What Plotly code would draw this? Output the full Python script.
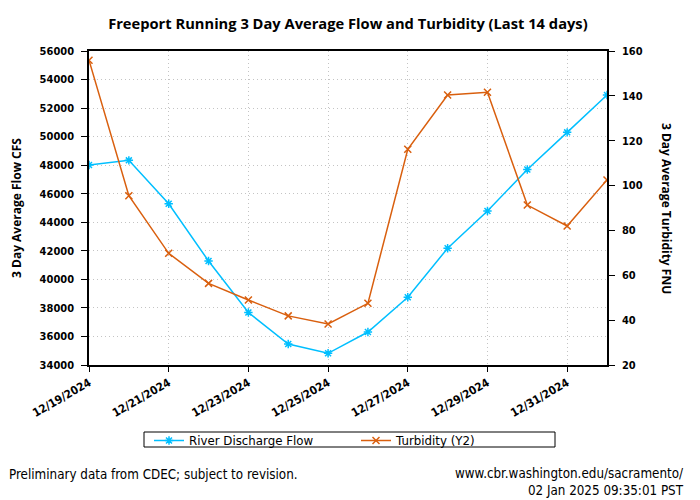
import plotly.graph_objects as go

dates = ["2024-12-19", "2024-12-20", "2024-12-21", "2024-12-22", "2024-12-23", "2024-12-24",
         "2024-12-25", "2024-12-26", "2024-12-27", "2024-12-28", "2024-12-29", "2024-12-30",
         "2024-12-31", "2025-01-01"]
flow = [48010, 48340, 45300, 41285, 37680, 35470, 34820, 36310, 38750, 42180, 44790, 47700,
        50300, 52920]
turbidity = [155.9, 95.5, 69.8, 56.4, 49.0, 41.9, 38.3, 47.5, 116.2, 140.4, 141.6, 91.3,
             82.0, 102.5]

title_text = "Freeport Running 3 Day Average Flow and Turbidity (Last 14 days)"
y1_title = "3 Day Average Flow CFS"
y2_title = "3 Day Average Turbidity FNU"
footer_left = "Preliminary data from CDEC; subject to revision."
footer_right = "www.cbr.washington.edu/sacramento/<br>02 Jan 2025 09:35:01 PST"

BLUE = "#00BFFF"
ORANGE = "#D95F0E"
tickfont = dict(family="DejaVu Sans Condensed", size=11, color="black", weight="bold")
GRID = "#c4c4c4"

fig = go.Figure()
fig.add_trace(go.Scatter(x=dates, y=flow, name="River Discharge Flow", mode="lines+markers",
                         line=dict(color=BLUE, width=1.5),
                         marker=dict(symbol="asterisk-open", size=7, color=BLUE,
                                     line=dict(color=BLUE, width=1.5))))
fig.add_trace(go.Scatter(x=dates, y=turbidity, name="Turbidity (Y2)", mode="lines+markers",
                         yaxis="y2",
                         line=dict(color=ORANGE, width=1.5),
                         marker=dict(symbol="x-thin-open", size=7, color=ORANGE,
                                     line=dict(color=ORANGE, width=1.5))))

fig.update_layout(
    width=700, height=500,
    margin=dict(l=89, r=93, t=51, b=135),
    paper_bgcolor="white", plot_bgcolor="white",
    title=dict(text=title_text, x=0.497, xanchor="center", y=0.953, yanchor="middle",
               font=dict(family="Open Sans", size=14.7, color="black", weight="bold")),
    xaxis=dict(type="date", range=["2024-12-19", "2025-01-01"], tick0="2024-12-19",
               dtick=2 * 86400000, tickformat="%m/%d/%Y", tickangle=-30,
               tickfont=dict(family="DejaVu Sans Condensed", size=11.5, color="black",
                             weight="bold"),
               ticks="outside", ticklen=5, tickcolor="black",
               showline=True, linecolor="black", linewidth=1.5, mirror=True,
               showgrid=True, gridcolor=GRID, griddash="1px,3px", gridwidth=1,
               zeroline=False),
    yaxis=dict(range=[34000, 56000], dtick=2000, tickformat="d", tickfont=tickfont,
               ticks="outside", ticklen=6, tickcolor="black", ticklabelstandoff=5,
               showline=True, linecolor="black", linewidth=1.5, showgrid=True,
               gridcolor=GRID, griddash="1px,3px", gridwidth=1, zeroline=False),
    yaxis2=dict(range=[20, 160], dtick=20, overlaying="y", side="right",
                tickfont=tickfont, ticks="outside", ticklen=6, tickcolor="black",
                ticklabelstandoff=5, showline=True, linecolor="black", linewidth=1.5,
                showgrid=False, zeroline=False),
    legend=dict(orientation="h", x=(149 - 89) / 518, xanchor="left",
                y=(365 - 426) / 314, yanchor="top",
                bordercolor="rgba(0,0,0,0)", borderwidth=0, bgcolor="rgba(0,0,0,0)",
                entrywidth=162, itemwidth=30,
                font=dict(family="DejaVu Sans", size=11.8, color="black"),
                tracegroupgap=0),
    showlegend=True,
)

# legend frame
fig.add_shape(type="rect", xref="paper", yref="paper",
              x0=(144 - 89) / 518, x1=(555 - 89) / 518,
              y0=(365 - 432) / 314, y1=(365 - 447) / 314,
              line=dict(color="black", width=1), fillcolor="rgba(0,0,0,0)")

fig.add_annotation(text=y1_title, xref="paper", yref="paper", x=-0.141, y=0.5,
                   xanchor="center", yanchor="middle", textangle=-90, showarrow=False,
                   font=dict(family="Open Sans", size=12, color="black", weight="bold"))
fig.add_annotation(text=y2_title, xref="paper", yref="paper", x=1.116, y=0.5,
                   xanchor="center", yanchor="middle", textangle=90, showarrow=False,
                   font=dict(family="Open Sans", size=12, color="black", weight="bold"))
fig.add_annotation(text=footer_left, xref="paper", yref="paper", x=-0.158, y=-0.348,
                   xanchor="left", yanchor="middle", showarrow=False, align="left",
                   font=dict(family="DejaVu Sans Condensed", size=13.3, color="black"))
fig.add_annotation(text=footer_right, xref="paper", yref="paper", x=1.152, y=-0.374,
                   xanchor="right", yanchor="middle", showarrow=False, align="right",
                   font=dict(family="DejaVu Sans Condensed", size=13.3, color="black"))

fig.write_html("out.html")
